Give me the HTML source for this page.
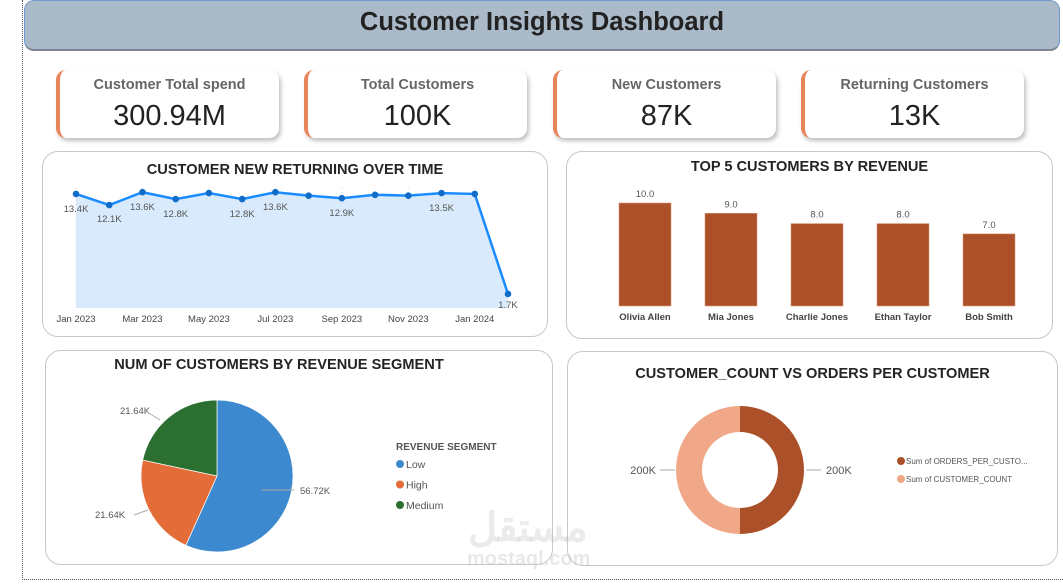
<!DOCTYPE html>
<html><head><meta charset="utf-8">
<style>
body{margin:0;width:1063px;height:584px;background:#fff;font-family:"Liberation Sans",sans-serif;position:relative;overflow:hidden}
.abs{position:absolute}
.card{position:absolute;background:#fff;border-radius:10px;box-shadow:2px 3px 4px rgba(0,0,0,.25);border-left:4px solid #e8845a}
.card .t{position:absolute;top:7px;width:100%;text-align:center;font-size:14.5px;font-weight:bold;color:#666}
.card .v{position:absolute;top:30px;width:100%;text-align:center;font-size:29px;color:#222}
.panel{position:absolute;border:1px solid #c8c8c8;border-radius:16px;background:#fff}
.pt{position:absolute;width:100%;text-align:center;font-weight:bold;font-size:14.6px;color:#252423}
</style></head><body>
<div class="abs" style="left:22px;top:0;width:0;height:580px;border-left:1.5px dotted #555"></div>
<div class="abs" style="left:22px;top:579px;width:1041px;border-top:1.5px dotted #555"></div>
<div class="abs" style="left:24px;top:0;width:1034px;height:48px;background:#abbac9;border:1px solid #6f9bd0;border-bottom:2px solid #7a8590;border-radius:10px"></div>
<div class="abs" style="left:24px;top:8px;width:1036px;text-align:center;font-size:25.5px;font-weight:bold;color:#222">Customer Insights Dashboard</div>

<div class="card" style="left:56px;top:70px;width:219px;height:68px"><div class="t">Customer Total spend</div><div class="v">300.94M</div></div>
<div class="card" style="left:304px;top:70px;width:219px;height:68px"><div class="t">Total Customers</div><div class="v">100K</div></div>
<div class="card" style="left:553px;top:70px;width:219px;height:68px"><div class="t">New Customers</div><div class="v">87K</div></div>
<div class="card" style="left:801px;top:70px;width:219px;height:68px"><div class="t">Returning Customers</div><div class="v">13K</div></div>

<div class="panel" style="left:42px;top:151px;width:504px;height:184px"><div class="pt" style="top:10px">CUSTOMER NEW RETURNING OVER TIME</div></div>
<div class="panel" style="left:566px;top:151px;width:485px;height:186px"><div class="pt" style="top:7px">TOP 5 CUSTOMERS BY REVENUE</div></div>
<div class="panel" style="left:45px;top:350px;width:506px;height:213px"><div class="pt" style="top:6px;left:-20px">NUM OF CUSTOMERS BY REVENUE SEGMENT</div></div>
<div class="panel" style="left:567px;top:351px;width:489px;height:213px"><div class="pt" style="top:14px">CUSTOMER_COUNT VS ORDERS PER CUSTOMER</div></div>

<svg class="abs" style="left:0;top:0" width="1063" height="584" id="svg" font-family="Liberation Sans, sans-serif"></svg>

<div class="abs" style="left:468px;top:505px;font-size:40px;font-weight:bold;color:rgba(190,190,190,.3);font-family:'Liberation Sans','Noto Sans CJK SC',sans-serif">مستقل</div>
<div class="abs" style="left:467px;top:548px;font-size:20px;font-weight:bold;color:rgba(190,190,190,.35)">mostaql.com</div>

<script>
const months=["Jan 2023","Feb 2023","Mar 2023","Apr 2023","May 2023","Jun 2023","Jul 2023","Aug 2023","Sep 2023","Oct 2023","Nov 2023","Dec 2023","Jan 2024","Feb 2024"];
const customerCounts=[13.4,12.1,13.6,12.8,13.5,12.8,13.6,13.2,12.9,13.3,13.2,13.5,13.4,1.7];
const labelShown=[true,true,true,true,false,true,true,false,true,false,false,true,false,true];
const xTickLabels=["Jan 2023","Mar 2023","May 2023","Jul 2023","Sep 2023","Nov 2023","Jan 2024"];
const barNames=["Olivia Allen","Mia Jones","Charlie Jones","Ethan Taylor","Bob Smith"];
const barValues=[10,9,8,8,7];
const segNames=["Low","High","Medium"];
const segValues=[56.72,21.64,21.64];
const segColors=["#3d89cf","#e46c38","#2b7030"];
const donutNames=["Sum of ORDERS_PER_CUSTO...","Sum of CUSTOMER_COUNT"];
const donutValues=[200,200];
const donutColors=["#ab5028","#f0a888"];

const svg=document.getElementById('svg');const NS="http://www.w3.org/2000/svg";
function mk(tag,attrs,parent){const e=document.createElementNS(NS,tag);for(const k in attrs)e.setAttribute(k,attrs[k]);(parent||svg).appendChild(e);return e;}
function txt(s,attrs){const e=mk('text',attrs);e.textContent=s;return e;}

// line chart
const lx=i=>76+i*(432/(months.length-1));
const ly=v=>308.5-v*8.55;
for(let i=0;i<months.length;i+=2){const l=mk('line',{x1:lx(i),x2:lx(i),y1:188,y2:308,stroke:'#c8d8e8','stroke-dasharray':'1,3'});
}
let area=`M${lx(0)},308 `+customerCounts.map((v,i)=>`L${lx(i)},${ly(v)}`).join(' ')+` L${lx(months.length-1)},308 Z`;
const ar=mk('path',{d:area,fill:'#d8eafb'});
const ln=mk('polyline',{points:customerCounts.map((v,i)=>lx(i)+','+ly(v)).join(' '),fill:'none',stroke:'#1a8cff','stroke-width':2.5});

customerCounts.forEach((v,i)=>{const c=mk('circle',{cx:lx(i),cy:ly(v),r:3.3,fill:'#0f6cc8'});

if(labelShown[i]){const t=txt(v.toFixed(1)+'K',{x:lx(i),y:ly(v)+(i==1?17:i==13?14:18),'text-anchor':'middle','font-size':9.5,fill:'#555'});
}});
xTickLabels.forEach((s,k)=>{const t=txt(s,{x:lx(k*2),y:322,'text-anchor':'middle','font-size':9.5,fill:'#444'});
});

// bar chart
const bx=i=>619+i*86;const by=v=>306-v*10.3;
barValues.forEach((v,i)=>{const r=mk('rect',{x:bx(i),y:by(v),width:52,height:306-by(v),fill:'#ab5028',stroke:'#d89878','stroke-width':0.6});

const t=txt(v.toFixed(1),{x:bx(i)+26,y:by(v)-6,'text-anchor':'middle','font-size':9.5,fill:'#555'});
const n=txt(barNames[i],{x:bx(i)+26,y:320,'text-anchor':'middle','font-size':9.5,'font-weight':'bold',fill:'#444'});});

// pie
const pcx=217,pcy=476,pr=76;const ptot=segValues.reduce((a,b)=>a+b,0);let a0=0;
const pieLab=[[300,494,'start',262,490,294,490],[95,518,'start',134,515,148,510],[120,414,'start',144,410,160,420]];
segValues.forEach((v,i)=>{const a1=a0+v/ptot*2*Math.PI;
const p=(a)=>[pcx+pr*Math.sin(a),pcy-pr*Math.cos(a)];const [x0,y0]=p(a0),[x1,y1]=p(a1);
const s=mk('path',{d:`M${pcx},${pcy} L${x0},${y0} A${pr},${pr} 0 ${a1-a0>Math.PI?1:0} 1 ${x1},${y1} Z`,fill:segColors[i],stroke:'#fff','stroke-width':0.7});

const L=pieLab[i];const t=txt(v.toFixed(2)+'K',{x:L[0],y:L[1],'font-size':9.5,fill:'#555'});
const l=mk('line',{x1:L[3],y1:L[4],x2:L[5],y2:L[6],stroke:'#aaa'});
a0=a1;});
const lt=txt('REVENUE SEGMENT',{x:396,y:450,'font-size':10,'font-weight':'bold',fill:'#555'});
segNames.forEach((n,i)=>{const c=mk('circle',{cx:400,cy:464+i*20.5,r:4,fill:segColors[i]});
const t=txt(n,{x:406,y:468+i*20.5,'font-size':10.5,fill:'#555'});});

// donut
const dcx=740,dcy=470,dro=64,dri=38;const dtot=donutValues.reduce((a,b)=>a+b,0);let d0=0;
donutValues.forEach((v,i)=>{const d1=d0+v/dtot*2*Math.PI;
const P=(r,a)=>[dcx+r*Math.sin(a),dcy-r*Math.cos(a)];const [ax,ay]=P(dro,d0),[bx1,by1]=P(dro,d1),[cx1,cy1]=P(dri,d1),[ex,ey]=P(dri,d0);
const lg=d1-d0>Math.PI?1:0;
const s=mk('path',{d:`M${ax},${ay} A${dro},${dro} 0 ${lg} 1 ${bx1},${by1} L${cx1},${cy1} A${dri},${dri} 0 ${lg} 0 ${ex},${ey} Z`,fill:donutColors[i]});

const right=i==0;const t=txt(v+'K',{x:right?826:656,y:dcy+4,'text-anchor':right?'start':'end','font-size':11,fill:'#555'});
const l=mk('line',{x1:right?806:660,x2:right?821:675,y1:dcy,y2:dcy,stroke:'#aaa'});
const c=mk('circle',{cx:901,cy:461+i*18,r:4,fill:donutColors[i]});
const lt2=txt(donutNames[i],{x:906,y:464+i*18,'font-size':8,fill:'#555'});
d0=d1;});
</script>
</body></html>
